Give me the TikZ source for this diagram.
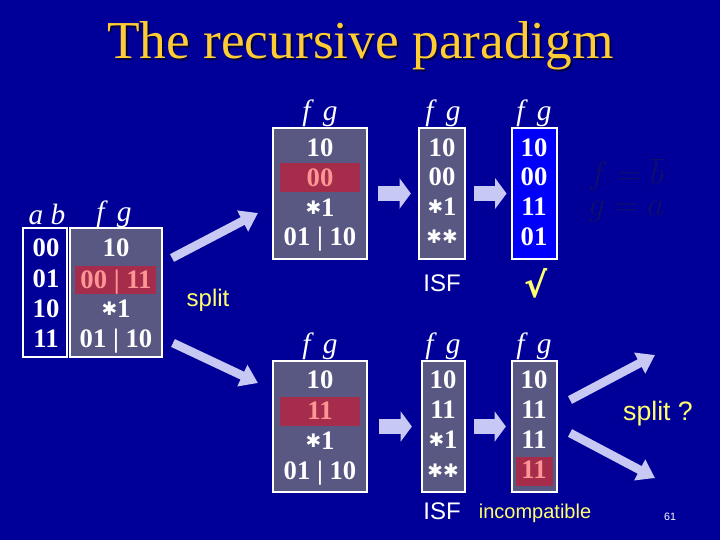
\documentclass[tikz,border=0pt]{standalone}
\usepackage{fontspec}
\setmainfont{Liberation Serif}
\setsansfont{Liberation Sans}
\newfontfamily\dejavu{DejaVu Sans}
\usetikzlibrary{arrows.meta,fit}
\definecolor{bg}{RGB}{0,0,153}
\definecolor{boxgray}{RGB}{88,88,130}
\definecolor{hired}{RGB}{165,45,75}
\definecolor{pinktxt}{RGB}{255,150,150}
\definecolor{ttl}{RGB}{255,204,51}
\definecolor{ttlshadow}{RGB}{0,0,70}
\definecolor{ylw}{RGB}{255,255,110}
\definecolor{lav}{RGB}{200,200,245}
\definecolor{brightblue}{RGB}{0,0,250}
\definecolor{dim}{RGB}{15,15,105}
\tikzset{
  box/.style={draw=white, line width=2.2pt, inner sep=0pt},
  hibar/.style={fill=hired, inner sep=0pt},
  row/.style={text=white, font=\fontsize{20}{22}\selectfont\bfseries, inner sep=0pt, anchor=center, text height=13.5pt, text depth=0.5pt},
  hirow/.style={row, text=pinktxt},
  lbl/.style={text=white, font=\fontsize{22}{24}\selectfont\itshape, inner sep=0pt},
  sanslbl/.style={font=\sffamily\fontsize{18}{20}\selectfont, inner sep=0pt},
  fat/.style={draw=lav, line width=11.5pt, -{Triangle[length=8.5pt,width=22.5pt]}},
  split/.style={draw=lav, line width=6.5pt, -{Triangle[length=13pt,width=17pt]}},
}
\newcommand{\stx}{\raisebox{1.4pt}{\dejavu\fontsize{14}{14}\selectfont ✱}}
\begin{document}
\begin{tikzpicture}[x=0.75pt,y=-0.75pt]
\fill[bg] (0,0) rectangle (720,540);
\useasboundingbox (0,0) rectangle (720,540);
% title
\node[text=ttlshadow, font=\fontsize{40}{44}\selectfont, inner sep=0pt, anchor=base west] (titleshadow) at (109,60) {The recursive paradigm};
\node[text=ttl, font=\fontsize{40}{44}\selectfont, inner sep=0pt, anchor=base west] (title) at (107,58) {The recursive paradigm};

% left table
\node[lbl] (labab) at (47,214) {a b};
\node[lbl] (labfg) at (114,214) {f\, g};
\node[box, fill=bg, fit={(23,228) (67,357)}] (abcol) {};
\node[box, fill=boxgray, fit={(70,228) (162,357)}] (fgcol) {};
\node[hibar, fit={(75,266) (156,294)}] (lhi) {};
\node[row] (ab1) at (46,248) {00};
\node[row] (ab2) at (46,279) {01};
\node[row] (ab3) at (46,309) {10};
\node[row] (ab4) at (46,339) {11};
\node[row] (fg1) at (116,248) {10};
\node[hirow] (fg2) at (116,280) {00 | 11};
\node[row] (fg3) at (116,309) {\stx1};
\node[row] (fg4) at (116,339) {01 | 10};

% split arrows left
\coordinate (slu0) at (172,258);
\coordinate (slu1) at (258,213);
\coordinate (sll0) at (173,343);
\coordinate (sll1) at (258,383);
\draw[split] (slu0) -- (slu1);
\draw[split] (sll0) -- (sll1);
\node[sanslbl, text=ylw] (splitl) at (208,300) {split};

% top row
\node[lbl] (tl1) at (320,113) {f\, g};
\node[lbl] (tl2) at (443,113) {f\, g};
\node[lbl] (tl3) at (534,113) {f\, g};
\node[box, fill=boxgray, fit={(273,128) (367,259)}] (tb1) {};
\node[box, fill=boxgray, fit={(419,128) (465,259)}] (tb2) {};
\node[box, fill=brightblue, fit={(512,128) (557,259)}] (tb3) {};
\node[hibar, fit={(280,163) (360,192)}] (thi) {};
\node[row] (t11) at (320,148) {10};
\node[hirow] (t12) at (320,178) {00};
\node[row] (t13) at (320,208) {\stx1};
\node[row] (t14) at (320,237) {01 | 10};
\node[row] (t21) at (442,148) {10};
\node[row] (t22) at (442,177) {00};
\node[row] (t23) at (442,207) {\stx1};
\node[row] (t24) at (442,237) {\stx\stx};
\node[row] (t31) at (534,148) {10};
\node[row] (t32) at (534,177) {00};
\node[row] (t33) at (534,207) {11};
\node[row] (t34) at (534,237) {01};
\draw[fat, shorten <=7.5pt, shorten >=5pt] (tb1.east) -- (tb2.west);
\draw[fat, shorten <=6pt, shorten >=3pt] (tb2.east) -- (tb3.west);
\node[sanslbl, text=white] (isf1) at (442,283) {ISF};
\node[text=ylw, inner sep=0pt, font=\dejavu\bfseries\fontsize{26}{28}\selectfont] (check) at (536,283) {√};
\node[text=dim, inner sep=0pt, font=\fontsize{24}{26}\selectfont, anchor=west] (eqf) at (588,175) {$f=\overline{b}$};
\node[text=dim, inner sep=0pt, font=\fontsize{24}{26}\selectfont, anchor=west] (eqg) at (588,212) {$g=a$};

% bottom row
\node[lbl] (bl1) at (320,346) {f\, g};
\node[lbl] (bl2) at (443,346) {f\, g};
\node[lbl] (bl3) at (534,346) {f\, g};
\node[box, fill=boxgray, fit={(273,361) (367,492)}] (bb1) {};
\node[box, fill=boxgray, fit={(422,361) (465,492)}] (bb2) {};
\node[box, fill=boxgray, fit={(512,361) (557,492)}] (bb3) {};
\node[hibar, fit={(280,397) (360,426)}] (bhi1) {};
\node[hibar, fit={(516,457) (553,486)}] (bhi3) {};
\node[row] (b11) at (320,380) {10};
\node[hirow] (b12) at (320,411) {11};
\node[row] (b13) at (320,441) {\stx1};
\node[row] (b14) at (320,471) {01 | 10};
\node[row] (b21) at (443,380) {10};
\node[row] (b22) at (443,410) {11};
\node[row] (b23) at (443,440) {\stx1};
\node[row] (b24) at (443,471) {\stx\stx};
\node[row] (b31) at (534,380) {10};
\node[row] (b32) at (534,410) {11};
\node[row] (b33) at (534,440) {11};
\node[hirow] (b34) at (534,470) {11};
\draw[fat, shorten <=8pt, shorten >=6.5pt] (bb1.east) -- (bb2.west);
\draw[fat, shorten <=5.5pt, shorten >=3.5pt] (bb2.east) -- (bb3.west);
\node[sanslbl, text=white] (isf2) at (442,511) {ISF};
\node[sanslbl, text=ylw, font=\sffamily\fontsize{15}{17}\selectfont] (incomp) at (535,513) {incompatible};

% split arrows right
\coordinate (sru0) at (570,400);
\coordinate (sru1) at (655,355);
\coordinate (srl0) at (570,433);
\coordinate (srl1) at (655,478);
\draw[split] (sru0) -- (sru1);
\draw[split] (srl0) -- (srl1);
\node[sanslbl, text=ylw, font=\sffamily\fontsize{20}{22}\selectfont] (splitr) at (658,414) {split ?};

\node[text=white, inner sep=0pt, font=\sffamily\fontsize{8}{9}\selectfont] (pagenum) at (670,517) {61};
\end{tikzpicture}
\end{document}
